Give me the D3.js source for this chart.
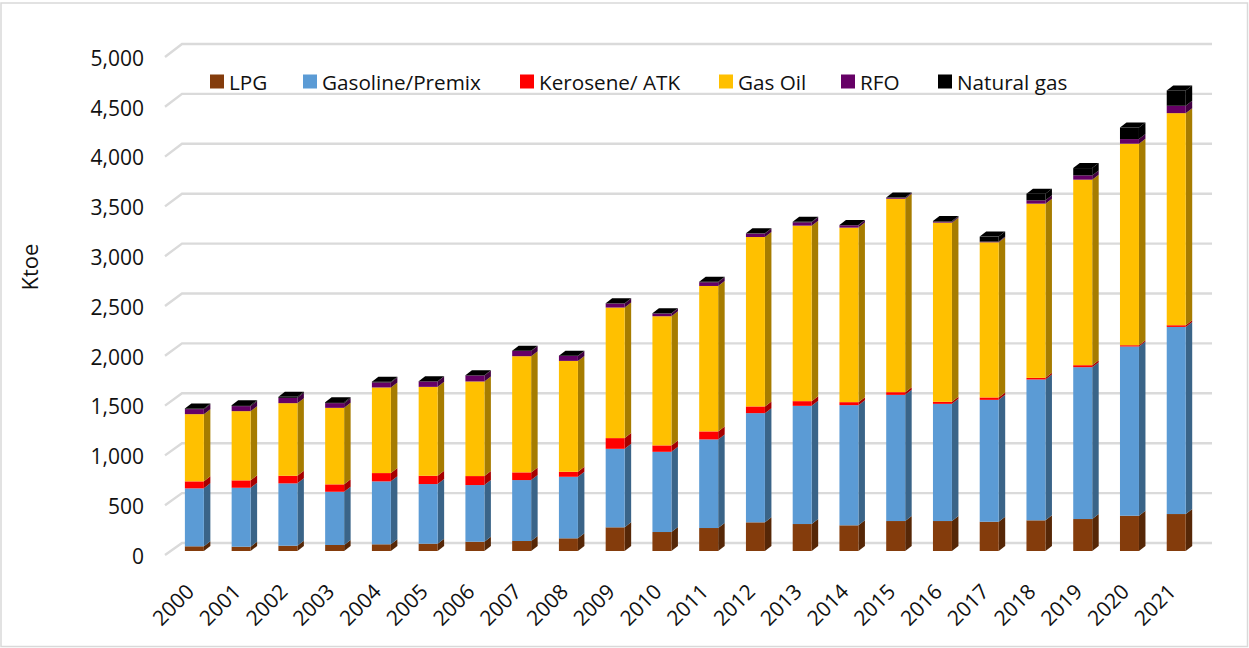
<!DOCTYPE html>
<html><head><meta charset="utf-8">
<script src="https://cdn.jsdelivr.net/npm/d3@7"></script>
<style>html,body{margin:0;padding:0;background:#fff}svg{display:block}text{font-family:"Open Sans",sans-serif;fill:#111}</style>
</head><body><svg id="c" width="1249" height="648"></svg>
<script>
const years=[2000,2001,2002,2003,2004,2005,2006,2007,2008,2009,2010,2011,2012,2013,2014,2015,2016,2017,2018,2019,2020,2021];
const seriesNames=["LPG","Gasoline/Premix","Kerosene/ ATK","Gas Oil","RFO","Natural gas"];
const lpg=[47,43,53,60,67,73,93,100,127,237,190,230,287,270,257,300,300,293,307,320,353,370];
const gasoline=[580,590,624,533,630,597,567,610,616,786,803,887,1093,1183,1203,1263,1173,1220,1410,1520,1694,1873];
const kerosene=[70,74,76,74,83,83,90,77,50,107,64,80,67,47,30,27,20,24,16,20,13,17];
const gasOil=[673,693,727,766,857,890,947,1163,1110,1307,1293,1456,1696,1757,1747,1936,1794,1553,1744,1857,2017,2123];
const rfo=[50,50,53,47,50,54,60,53,50,40,27,37,34,33,23,10,10,7,33,43,46,74];
const naturalGas=[7,10,10,10,8,3,3,2,2,3,3,5,3,5,3,2,6,50,67,73,116,153];
const yTicks=[0,500,1000,1500,2000,2500,3000,3500,4000,4500,5000];
const frontColors=["#843C0C","#5B9BD5","#FF0000","#FFC000","#660066","#000000"];
const sideColors=["#562707","#3A6488","#A60000","#A67C00","#420042","#000000"];
const legendX=[210,303,520,719,841,938];

const svg=d3.select("#c");
svg.append("rect").attr("x",1).attr("y",3).attr("width",1246.5).attr("height",643.5)
  .attr("fill","#fff").attr("stroke","#D9D9D9").attr("stroke-width",1.5);

const yBack=d3.scaleLinear().domain([0,5000]).range([543,44]);
const yFront=d3.scaleLinear().domain([0,5000]).range([555,57]);
const yBar=d3.scaleLinear().domain([0,5000]).range([551,51.5]);
const x=d3.scaleBand().domain(years).range([171,1199.6]).paddingInner(0.594).paddingOuter(0.297);

const grid=svg.append("g");
grid.selectAll("path").data(yTicks).join("path")
  .attr("d",d=>d3.line()([[165,yFront(d)],[182,yBack(d)],[1212,yBack(d)]]))
  .attr("fill","none").attr("stroke","#DADADA").attr("stroke-width",2.4);

const yAxis=svg.append("g").attr("transform","translate(144,1.5)")
  .call(d3.axisLeft(yFront).tickValues(yTicks).tickFormat(d3.format(",")).tickSize(0).tickPadding(0));
yAxis.select(".domain").remove();
yAxis.selectAll("text").attr("font-size",21).attr("font-family",'"Open Sans",sans-serif').attr("fill","#111");

const xAxis=svg.append("g").attr("transform","translate(0,579)")
  .call(d3.axisBottom(x).tickSize(0).tickPadding(0));
xAxis.select(".domain").remove();
xAxis.selectAll("text").attr("font-size",21).attr("font-family",'"Open Sans",sans-serif').attr("fill","#111")
  .attr("text-anchor","end").attr("dy",0).attr("y",0)
  .attr("transform","translate(1,14) rotate(-45)");

svg.append("text").attr("transform","translate(38,267) rotate(-90)").attr("text-anchor","middle")
  .attr("font-size",22).text("Ktoe");

const rows=years.map((y,i)=>({year:y,s0:lpg[i],s1:gasoline[i],s2:kerosene[i],s3:gasOil[i],s4:rfo[i],s5:naturalGas[i]}));
const stacked=d3.stack().keys(["s0","s1","s2","s3","s4","s5"])(rows);
const dx=6.5,dy=5;
const bars=svg.append("g");
const groups=bars.selectAll("g").data(years).join("g");
groups.each(function(yr,i){
  const g=d3.select(this),x0=x(yr),w=x.bandwidth(),x1=x0+w;
  stacked.forEach((layer,k)=>{
    const yT=yBar(layer[i][1]),yB=yBar(layer[i][0]);
    g.append("path").attr("fill",sideColors[k])
      .attr("d",d3.line()([[x1,yB],[x1+dx,yB-dy],[x1+dx,yT-dy],[x1,yT]])+"Z");
    g.append("rect").attr("x",x0).attr("y",yT).attr("width",w).attr("height",Math.max(0,yB-yT)).attr("fill",frontColors[k]);
    if(k===stacked.length-1){
      g.append("path").attr("fill","#000")
        .attr("d",d3.line()([[x0,yT],[x0+dx,yT-dy],[x1+dx,yT-dy],[x1,yT]])+"Z");
    }
  });
});

const lg=svg.append("g").selectAll("g").data(seriesNames).join("g")
  .attr("transform",(d,i)=>`translate(${legendX[i]},74.5)`);
lg.append("rect").attr("width",14).attr("height",14).attr("fill",(d,i)=>frontColors[i]);
lg.append("text").attr("x",19).attr("y",15).attr("font-size",20.7).text(d=>d);
</script></body></html>
